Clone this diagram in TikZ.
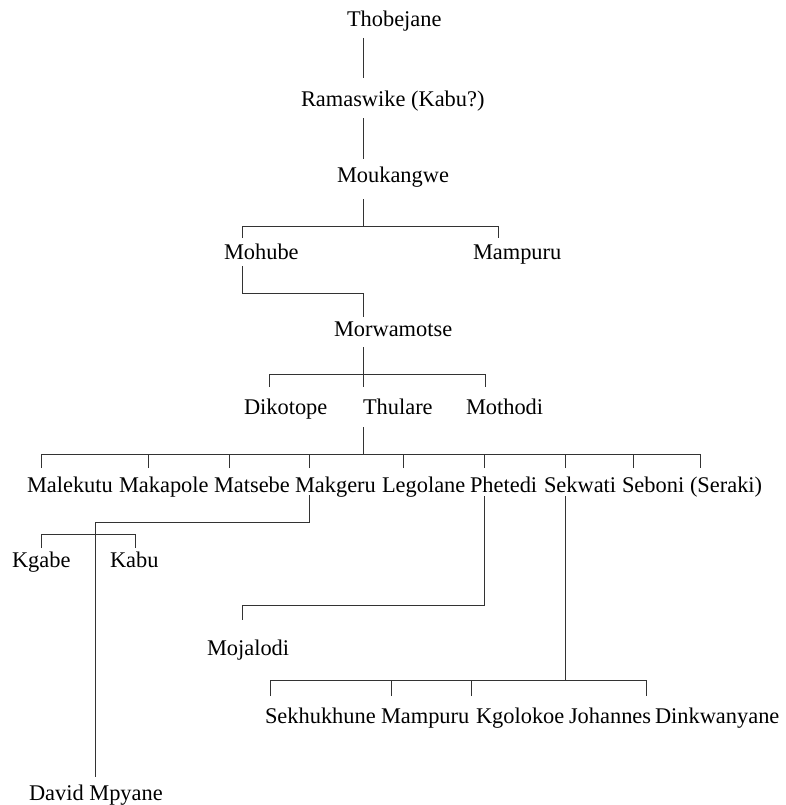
\documentclass[tikz,border=0pt]{standalone}
\usepackage{fontspec}
\setmainfont{Liberation Serif}
\begin{document}
\begin{tikzpicture}[x=1bp,y=-1bp,
  lbl/.style={anchor=base west,inner sep=0pt,outer sep=0pt,text=black},
  conn/.style={draw=black!80,line width=0.9bp},
  font=\fontsize{22.4bp}{27bp}\selectfont]
\useasboundingbox (0,0) rectangle (786,805);
% labels
\node[lbl] (thob) at (347,27) {Thobejane};
\node[lbl] (ram) at (301,106) {Ramaswike (Kabu?)};
\node[lbl] (mouk) at (337,182) {Moukangwe};
\node[lbl] (mohube) at (224,259) {Mohube};
\node[lbl] (mampA) at (473,259) {Mampuru};
\node[lbl] (morw) at (334,336) {Morwamotse};
\node[lbl] (diko) at (244,414) {Dikotope};
\node[lbl] (thul) at (363,414) {Thulare};
\node[lbl] (moth) at (466,414) {Mothodi};
\node[lbl] (male) at (27,492) {Malekutu};
\node[lbl] (makap) at (119,492) {Makapole};
\node[lbl] (mats) at (214,492) {Matsebe};
\node[lbl] (makg) at (295,492) {Makgeru};
\node[lbl] (lego) at (382,492) {Legolane};
\node[lbl] (phet) at (470,492) {Phetedi};
\node[lbl] (sekw) at (544,492) {Sekwati};
\node[lbl] (sebo) at (622,492) {Seboni};
\node[lbl] (sera) at (690,492) {(Seraki)};
\node[lbl] (kgabe) at (12,567) {Kgabe};
\node[lbl] (kabu) at (110,567) {Kabu};
\node[lbl] (moja) at (207,655) {Mojalodi};
\node[lbl] (sekh) at (265,723) {Sekhukhune};
\node[lbl] (mampB) at (381,723) {Mampuru};
\node[lbl] (kgol) at (476,723) {Kgolokoe};
\node[lbl] (joha) at (569,723) {Johannes};
\node[lbl] (dink) at (655,723) {Dinkwanyane};
\node[lbl] (david) at (29,800) {David Mpyane};
% connectors
\draw[conn] ([shift={(16,11)}]thob.base west) -- ([shift={(62,-28)}]ram.base west);
\draw[conn] ([shift={(62,12)}]ram.base west) -- ([shift={(26,-23)}]mouk.base west);
\draw[conn] ([shift={(26,17)}]mouk.base west) -- ++(0,27);
\draw[conn] ([shift={(18,-21)}]mohube.base west) -- ++(0,-12) -| ([shift={(25,-21)}]mampA.base west);
\draw[conn] ([shift={(18,7)}]mohube.base west) -- ++(0,27) -| ([shift={(29,-19)}]morw.base west);
\draw[conn] ([shift={(29,11)}]morw.base west) -- ([shift={(0,-27)}]thul.base west);
\draw[conn] ([shift={(25,-27)}]diko.base west) -- ++(0,-13) -| ([shift={(19,-27)}]moth.base west);
\draw[conn] ([shift={(0,13)}]thul.base west) -- ++(0,27);
\draw[conn] ([shift={(14,-24)}]male.base west) -- ++(0,-14) -| ([shift={(10,-24)}]sera.base west);
\draw[conn] ([shift={(29,-24)}]makap.base west) -- ++(0,-14);
\draw[conn] ([shift={(15,-24)}]mats.base west) -- ++(0,-14);
\draw[conn] ([shift={(14,-24)}]makg.base west) -- ++(0,-14);
\draw[conn] ([shift={(21,-24)}]lego.base west) -- ++(0,-14);
\draw[conn] ([shift={(14,-24)}]phet.base west) -- ++(0,-14);
\draw[conn] ([shift={(21,-24)}]sekw.base west) -- ++(0,-14);
\draw[conn] ([shift={(11,-24)}]sebo.base west) -- ++(0,-14);
\draw[conn] ([shift={(14,3)}]makg.base west) -- ++(0,27) -| ([shift={(66,-23)}]david.base west);
\draw[conn] ([shift={(29,-19)}]kgabe.base west) -- ++(0,-14) -| ([shift={(25,-19)}]kabu.base west);
\draw[conn] ([shift={(14,4)}]phet.base west) -- ++(0,109) -| ([shift={(35,-35)}]moja.base west);
\draw[conn] ([shift={(21,4)}]sekw.base west) -- ++(0,184);
\draw[conn] ([shift={(5,-27)}]sekh.base west) -- ++(0,-16) -| ([shift={(-9,-27)}]dink.base west);
\draw[conn] ([shift={(10,-27)}]mampB.base west) -- ++(0,-16);
\draw[conn] ([shift={(-5,-27)}]kgol.base west) -- ++(0,-16);
\end{tikzpicture}
\end{document}
